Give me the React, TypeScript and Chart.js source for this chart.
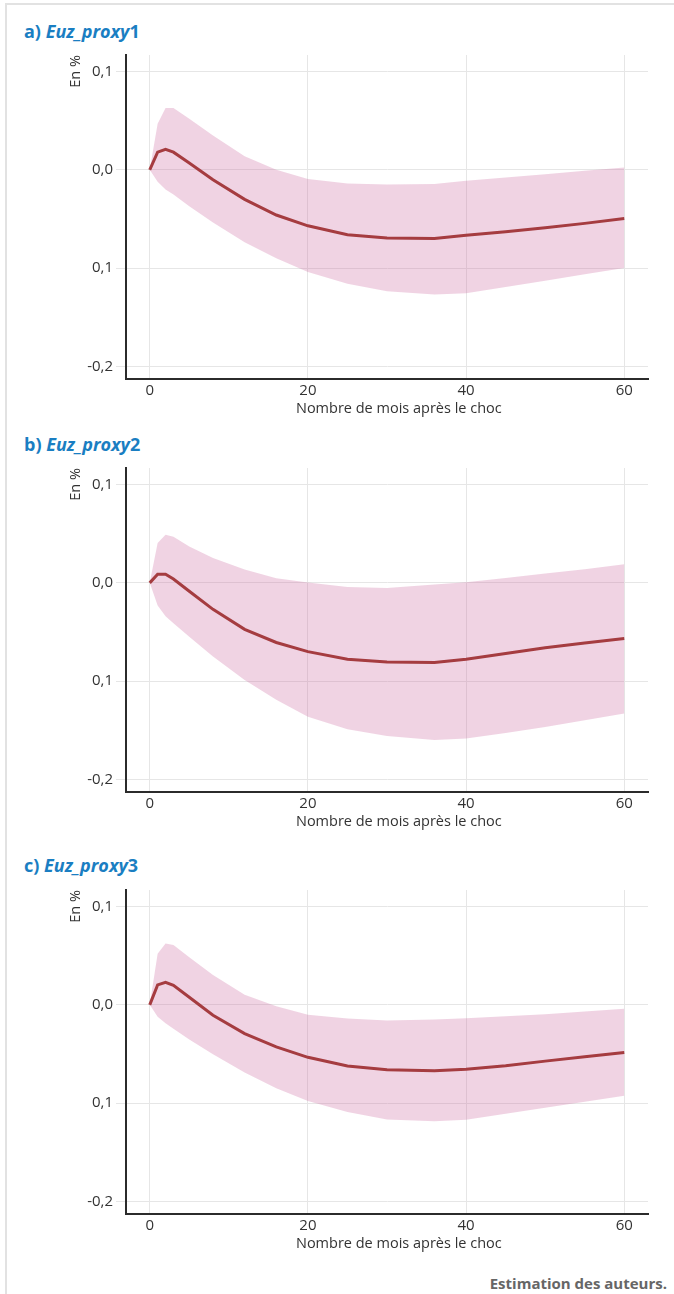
import React, { useEffect, useRef } from "react";
import { Chart, registerables } from "chart.js";

Chart.register(...registerables);

// ---------- data ----------
const months = [0, 1, 2, 3, 5, 8, 12, 16, 20, 25, 30, 36, 40, 45, 50, 55, 60];
const xTicks = [0, 20, 40, 60];
const yTicks = [0.1, 0, -0.1, -0.2];
const yTickLabels = ["0,1", "0,0", "0,1", "-0,2"];
const xTitle = "Nombre de mois après le choc";
const yTitle = "En %";
const source = "Estimation des auteurs.";

const proxy1Mid = [0, 0.018, 0.021, 0.018, 0.007, -0.010, -0.030, -0.046, -0.057, -0.066, -0.0695, -0.070, -0.0665, -0.063, -0.059, -0.0545, -0.0495];
const proxy1Upper = [0, 0.047, 0.063, 0.063, 0.052, 0.035, 0.014, 0.0002, -0.0092, -0.014, -0.015, -0.0145, -0.011, -0.0077, -0.0044, -0.001, 0.0023];
const proxy1Lower = [0, -0.012, -0.020, -0.025, -0.037, -0.0536, -0.0738, -0.090, -0.104, -0.116, -0.1235, -0.127, -0.1256, -0.1193, -0.113, -0.1064, -0.100];

const proxy2Mid = [0, 0.0088, 0.0088, 0.004, -0.0085, -0.027, -0.0473, -0.0607, -0.070, -0.0777, -0.0805, -0.081, -0.0777, -0.072, -0.066, -0.0613, -0.0566];
const proxy2Upper = [0, 0.0407, 0.049, 0.047, 0.037, 0.0253, 0.0135, 0.0047, 0.0003, -0.0043, -0.0052, -0.0017, 0.0006, 0.005, 0.0095, 0.014, 0.019];
const proxy2Lower = [0, -0.023, -0.034, -0.041, -0.055, -0.0749, -0.0988, -0.119, -0.1364, -0.149, -0.156, -0.160, -0.1586, -0.1528, -0.1467, -0.1398, -0.133];

const proxy3Mid = [0, 0.0203, 0.023, 0.020, 0.0078, -0.0105, -0.0292, -0.0428, -0.0534, -0.0622, -0.066, -0.067, -0.0655, -0.062, -0.0573, -0.0528, -0.0485];
const proxy3Upper = [0, 0.052, 0.0626, 0.061, 0.0484, 0.0303, 0.0104, -0.0015, -0.010, -0.014, -0.016, -0.015, -0.0136, -0.0116, -0.0096, -0.0068, -0.004];
const proxy3Lower = [0, -0.012, -0.0187, -0.0242, -0.0352, -0.0504, -0.0688, -0.085, -0.098, -0.109, -0.1167, -0.1186, -0.117, -0.111, -0.1049, -0.0987, -0.0925];

const panelLetters = ["a)", "b)", "c)"];
const panelNames = ["Euz_proxy", "Euz_proxy", "Euz_proxy"];
const panelNumbers = ["1", "2", "3"];

// ---------- styles ----------
const FONT = "'Open Sans', 'Noto Sans', sans-serif";
const LINE_COLOR = "#a53c40";
const BAND_COLOR = "rgba(205,108,162,0.3)";
const GRID_COLOR = "#e6e6e6";
const AXIS_COLOR = "#2b2b2b";
const TEXT_COLOR = "#333333";
const TITLE_COLOR = "#1a7ec2";

const CANVAS_LEFT = 65;
const CANVAS_W = 609;
const CANVAS_H = 381;

const toPoints = (vals: number[]) => months.map((m, i) => ({ x: m, y: vals[i] }));

const xTitlePlugin = {
  id: "xTitleCentered",
  afterDraw(chart: any) {
    const ctx = chart.ctx;
    const xs = chart.scales.x;
    const cx = (xs.getPixelForValue(0) + chart.chartArea.right) / 2;
    ctx.save();
    ctx.font = `14.5px ${FONT}`;
    ctx.fillStyle = TEXT_COLOR;
    ctx.textAlign = "center";
    ctx.textBaseline = "middle";
    ctx.fillText(xTitle, cx, chart.chartArea.bottom + 30);
    ctx.restore();
  },
};

function Panel({ mid, upper, lower, top }: { mid: number[]; upper: number[]; lower: number[]; top: number }) {
  const ref = useRef<HTMLCanvasElement | null>(null);
  useEffect(() => {
    if (!ref.current) return;
    const chart = new Chart(ref.current, {
      type: "line",
      data: {
        datasets: [
          {
            data: toPoints(mid),
            borderColor: LINE_COLOR,
            borderWidth: 3,
            pointRadius: 0,
            tension: 0,
            fill: false,
          },
          {
            data: toPoints(upper),
            borderWidth: 0,
            borderColor: "rgba(0,0,0,0)",
            backgroundColor: BAND_COLOR,
            pointRadius: 0,
            tension: 0,
            fill: "+1",
          },
          {
            data: toPoints(lower),
            borderWidth: 0,
            borderColor: "rgba(0,0,0,0)",
            pointRadius: 0,
            tension: 0,
            fill: false,
          },
        ],
      },
      options: {
        animation: false,
        responsive: false,
        events: [],
        layout: { padding: { top: 10, left: 0, right: 26, bottom: 0 } },
        plugins: { legend: { display: false }, tooltip: { enabled: false } },
        scales: {
          x: {
            type: "linear",
            min: -3,
            max: 63,
            afterBuildTicks: (s: any) => {
              s.ticks = xTicks.map((v) => ({ value: v }));
            },
            afterFit: (s: any) => {
              s.height = 45;
            },
            grid: { color: GRID_COLOR, lineWidth: 1, drawTicks: false },
            border: { display: true, color: AXIS_COLOR, width: 2 },
            ticks: {
              color: TEXT_COLOR,
              font: { family: FONT, size: 15 },
              padding: 3,
              maxRotation: 0,
              callback: (v: any) => String(v),
            },
          },
          y: {
            type: "linear",
            min: -0.213,
            max: 0.117,
            afterBuildTicks: (s: any) => {
              s.ticks = yTicks.map((v) => ({ value: v }));
            },
            afterFit: (s: any) => {
              s.width = 61;
            },
            grid: { color: GRID_COLOR, lineWidth: 1, drawTicks: true, tickLength: 10 },
            border: { display: true, color: AXIS_COLOR, width: 2 },
            ticks: {
              color: TEXT_COLOR,
              font: { family: FONT, size: 15 },
              padding: 3,
              callback: (v: any) => {
                const i = yTicks.findIndex((t) => Math.abs(t - v) < 1e-9);
                return i >= 0 ? yTickLabels[i] : "";
              },
            },
            title: {
              display: true,
              text: yTitle,
              align: "end",
              color: TEXT_COLOR,
              font: { family: FONT, size: 14.5 },
              padding: { top: 2, bottom: 0 },
            },
          },
        },
      },
      plugins: [xTitlePlugin],
    } as any);
    return () => chart.destroy();
  }, []);
  return (
    <canvas
      ref={ref}
      width={CANVAS_W}
      height={CANVAS_H}
      style={{ position: "absolute", left: CANVAS_LEFT, top, width: CANVAS_W, height: CANVAS_H }}
    />
  );
}

const panels = [
  { mid: proxy1Mid, upper: proxy1Upper, lower: proxy1Lower, canvasTop: 43, titleTop: 19 },
  { mid: proxy2Mid, upper: proxy2Upper, lower: proxy2Lower, canvasTop: 456, titleTop: 432 },
  { mid: proxy3Mid, upper: proxy3Upper, lower: proxy3Lower, canvasTop: 878, titleTop: 853 },
];

export default function App() {
  return (
    <div
      style={{
        position: "absolute",
        left: 0,
        top: 0,
        width: 674,
        height: 1294,
        overflow: "hidden",
        background: "#fff",
        fontFamily: FONT,
      }}
    >
      <div
        style={{
          position: "absolute",
          left: 5,
          top: 3,
          width: 669,
          height: 1291,
          borderLeft: "2px solid #e2e2e2",
          borderTop: "2px solid #e2e2e2",
          boxSizing: "border-box",
        }}
      />
      {panels.map((p, i) => (
        <React.Fragment key={i}>
          <div
            style={{
              position: "absolute",
              left: 24,
              top: p.titleTop,
              fontSize: 18,
              lineHeight: "24px",
              fontWeight: 700,
              color: TITLE_COLOR,
              whiteSpace: "nowrap",
            }}
          >
            {panelLetters[i]} <i>{panelNames[i]}</i>
            {panelNumbers[i]}
          </div>
          <Panel mid={p.mid} upper={p.upper} lower={p.lower} top={p.canvasTop} />
        </React.Fragment>
      ))}
      <div
        style={{
          position: "absolute",
          right: 7,
          top: 1272,
          fontSize: 15,
          lineHeight: "22px",
          fontWeight: 700,
          color: "#666",
          whiteSpace: "nowrap",
        }}
      >
        {source}
      </div>
    </div>
  );
}
